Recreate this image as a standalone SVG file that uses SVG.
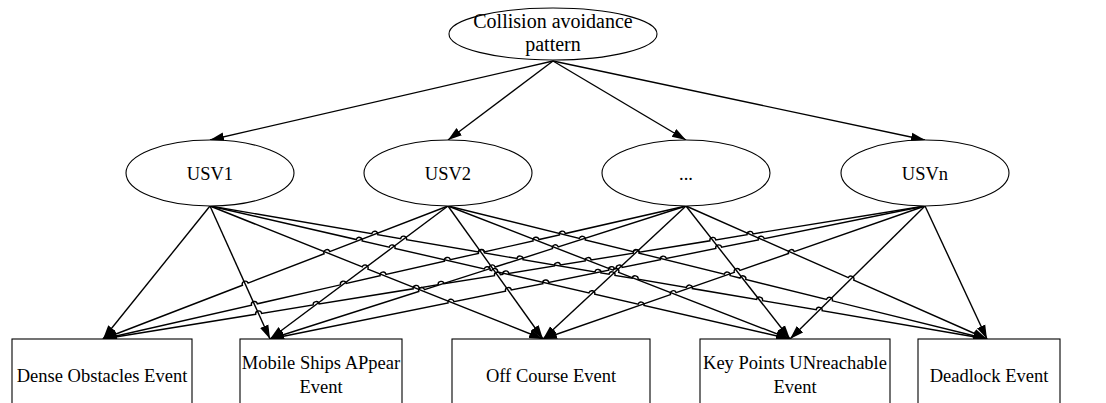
<svg xmlns="http://www.w3.org/2000/svg" width="1106" height="403" viewBox="0 0 1106 403">
<style>
.shape{fill:#fff;stroke:#000;stroke-width:1.1}
.t{font-family:"Liberation Serif","Times New Roman",serif;font-size:18.5px;fill:#000;text-anchor:middle}
.big{font-size:20px}
.e{fill:none;stroke:#000;stroke-width:1.4;marker-end:url(#ah)}
</style>
<defs>
<marker id="ah" markerUnits="userSpaceOnUse" markerWidth="15" markerHeight="11" refX="14" refY="5.5" orient="auto">
<path d="M0,1 L14,5.5 L0,10 z" fill="#000"/>
</marker>
</defs>
<rect width="1106" height="403" fill="#fff"/>
<g id="connectors">
<path class="e" d="M553,61 L210,140"/>
<path class="e" d="M553,61 L448,140"/>
<path class="e" d="M553,61 L686,140"/>
<path class="e" d="M553,61 L925,140"/>
<path class="e" d="M210,206 L103,339"/>
<path class="e" d="M210,206 L270,339"/>
<path class="e" d="M210,206 L362.30,266.84 A3,3 0 0 1 367.88,269.06 L543,339"/>
<path class="e" d="M210,206 L356.31,239.55 A3,3 0 0 1 362.15,240.89 L389.19,247.09 A3,3 0 0 1 395.03,248.43 L484.27,268.89 A3,3 0 0 1 490.11,270.23 L491.70,270.60 A3,3 0 0 1 497.54,271.94 L588.93,292.89 A3,3 0 0 1 594.77,294.23 L638.16,304.18 A3,3 0 0 1 644.00,305.52 L790,339"/>
<path class="e" d="M210,206 L371.86,233.70 A3,3 0 0 1 377.78,234.72 L400.68,238.64 A3,3 0 0 1 406.60,239.66 L478.59,251.97 A3,3 0 0 1 484.51,252.99 L517.06,258.56 A3,3 0 0 1 522.98,259.58 L595.00,271.90 A3,3 0 0 1 600.92,272.92 L609.05,274.30 A3,3 0 0 1 614.97,275.32 L632.16,278.26 A3,3 0 0 1 638.08,279.28 L686.38,287.54 A3,3 0 0 1 692.30,288.56 L756.60,299.56 A3,3 0 0 1 762.52,300.58 L816.20,309.76 A3,3 0 0 1 822.12,310.78 L987,339"/>
<path class="e" d="M448,206 L329.69,251.61 A3,3 0 0 0 324.09,253.77 L248.06,283.08 A3,3 0 0 0 242.46,285.24 L103,339"/>
<path class="e" d="M448,206 L270,339"/>
<path class="e" d="M448,206 L543,339"/>
<path class="e" d="M448,206 L613.03,270.18 A3,3 0 0 1 618.63,272.36 L790,339"/>
<path class="e" d="M448,206 L579.41,238.43 A3,3 0 0 1 585.23,239.87 L633.18,251.69 A3,3 0 0 1 639.00,253.13 L724.25,274.16 A3,3 0 0 1 730.07,275.60 L739.99,278.05 A3,3 0 0 1 745.81,279.49 L826.55,299.41 A3,3 0 0 1 832.37,300.85 L987,339"/>
<path class="e" d="M686,206 L565.26,233.54 A3,3 0 0 0 559.41,234.88 L538.93,239.55 A3,3 0 0 0 533.08,240.89 L484.28,252.02 A3,3 0 0 0 478.43,253.36 L450.32,259.77 A3,3 0 0 0 444.47,261.11 L385.97,274.44 A3,3 0 0 0 380.12,275.78 L346.33,283.49 A3,3 0 0 0 340.48,284.83 L257.35,303.79 A3,3 0 0 0 251.50,305.13 L103,339"/>
<path class="e" d="M686,206 L558.24,246.85 A3,3 0 0 0 552.52,248.67 L495.11,267.04 A3,3 0 0 0 489.39,268.86 L424.48,289.61 A3,3 0 0 0 418.76,291.43 L270,339"/>
<path class="e" d="M686,206 L543,339"/>
<path class="e" d="M686,206 L790,339"/>
<path class="e" d="M686,206 L848.26,277.70 A3,3 0 0 1 853.74,280.12 L987,339"/>
<path class="e" d="M925,206 L753.02,233.83 A3,3 0 0 0 747.10,234.79 L715.80,239.85 A3,3 0 0 0 709.88,240.81 L639.25,252.23 A3,3 0 0 0 633.33,253.19 L591.11,260.02 A3,3 0 0 0 585.19,260.98 L560.40,264.99 A3,3 0 0 0 554.48,265.95 L508.75,273.35 A3,3 0 0 0 502.83,274.31 L500.38,274.70 A3,3 0 0 0 494.46,275.66 L444.07,283.81 A3,3 0 0 0 438.15,284.77 L419.10,287.85 A3,3 0 0 0 413.18,288.81 L319.12,304.03 A3,3 0 0 0 313.20,304.99 L261.60,313.34 A3,3 0 0 0 255.68,314.30 L103,339"/>
<path class="e" d="M925,206 L764.19,238.65 A3,3 0 0 0 758.31,239.85 L721.69,247.28 A3,3 0 0 0 715.81,248.48 L666.27,258.53 A3,3 0 0 0 660.39,259.73 L622.19,267.48 A3,3 0 0 0 616.31,268.68 L614.57,269.03 A3,3 0 0 0 608.69,270.23 L548.73,282.40 A3,3 0 0 0 542.85,283.60 L511.36,289.99 A3,3 0 0 0 505.48,291.19 L453.93,301.65 A3,3 0 0 0 448.05,302.85 L270,339"/>
<path class="e" d="M925,206 L794.16,251.55 A3,3 0 0 0 788.50,253.53 L739.97,270.42 A3,3 0 0 0 734.31,272.40 L676.15,292.64 A3,3 0 0 0 670.49,294.62 L543,339"/>
<path class="e" d="M925,206 L790,339"/>
<path class="e" d="M925,206 L987,339"/>
</g>
<g id="root">
<ellipse class="shape" cx="553" cy="34" rx="104" ry="26"/>
<text class="t big" x="553" y="28">Collision avoidance</text>
<text class="t big" x="553" y="51">pattern</text>
</g>
<g id="usv1">
<ellipse class="shape" cx="210" cy="173" rx="84" ry="33"/>
<text class="t" x="210" y="180">USV1</text>
</g>
<g id="usv2">
<ellipse class="shape" cx="448" cy="173" rx="84" ry="33"/>
<text class="t" x="448" y="180">USV2</text>
</g>
<g id="usv-dots">
<ellipse class="shape" cx="686" cy="173" rx="84" ry="33"/>
<text class="t" x="686" y="180">...</text>
</g>
<g id="usvn">
<ellipse class="shape" cx="925" cy="173" rx="84" ry="33"/>
<text class="t" x="925" y="180">USVn</text>
</g>
<g id="dense">
<rect class="shape" x="12" y="339" width="180" height="80"/>
<text class="t" x="102" y="382">Dense Obstacles Event</text>
</g>
<g id="mobile">
<rect class="shape" x="240" y="339" width="162" height="80"/>
<text class="t" x="321" y="369">Mobile Ships APpear</text>
<text class="t" x="321" y="393">Event</text>
</g>
<g id="offcourse">
<rect class="shape" x="452" y="339" width="198" height="80"/>
<text class="t" x="551" y="382">Off Course Event</text>
</g>
<g id="keypoints">
<rect class="shape" x="700" y="339" width="190" height="80"/>
<text class="t" x="795" y="369">Key Points UNreachable</text>
<text class="t" x="795" y="393">Event</text>
</g>
<g id="deadlock">
<rect class="shape" x="918" y="339" width="142" height="80"/>
<text class="t" x="989" y="382">Deadlock Event</text>
</g>
</svg>
